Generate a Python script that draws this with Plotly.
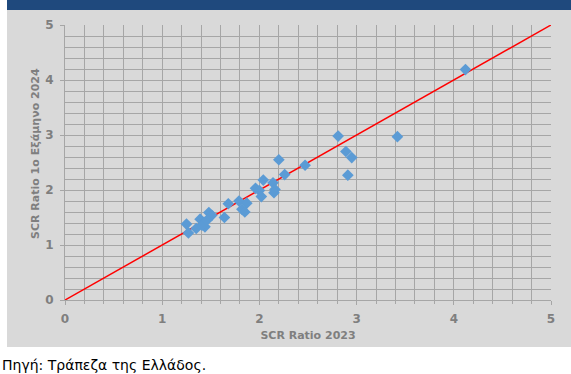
import plotly.graph_objects as go

# Data
scr_2023 = [4.12, 3.42, 2.81, 2.89, 2.95, 2.91, 2.20, 2.47, 2.26, 2.04, 2.14, 1.96,
            2.00, 2.16, 2.15, 2.02, 1.68, 1.79, 1.87, 1.82, 1.85, 1.64, 1.48, 1.51,
            1.39, 1.43, 1.44, 1.35, 1.25, 1.27, 1.41, 1.46]
scr_h1_2024 = [4.19, 2.97, 2.98, 2.70, 2.59, 2.27, 2.55, 2.45, 2.28, 2.18, 2.13, 2.03,
               1.99, 2.01, 1.95, 1.88, 1.75, 1.80, 1.76, 1.65, 1.60, 1.50, 1.59, 1.54,
               1.47, 1.41, 1.33, 1.30, 1.38, 1.22, 1.36, 1.45]
diag_x = [0, 5]
diag_y = [0, 5]
tick_vals = [0, 1, 2, 3, 4, 5]

W, H = 571, 374
L, R, T, B = 65, 20, 25, 74
pw, ph = W - L - R, H - T - B

def px2x(px):
    return (px - L) / pw

def py2y(py):
    return (H - B - py) / ph

gray_bg = "#d9d9d9"
grid = "#a6a6a6"
label_col = "#7f7f7f"

fig = go.Figure()
fig.add_trace(go.Scatter(x=diag_x, y=diag_y, mode="lines",
                         line=dict(color="#ff0000", width=1.5),
                         hoverinfo="skip", showlegend=False))
fig.add_trace(go.Scatter(x=scr_2023, y=scr_h1_2024, mode="markers",
                         marker=dict(symbol="diamond", size=9, color="#5b9bd5",
                                     line=dict(width=0)),
                         showlegend=False))

axis_common = dict(
    range=[0, 5], dtick=1, tickvals=tick_vals,
    showgrid=True, gridcolor=grid, gridwidth=1,
    zeroline=False, showline=True, linecolor=grid, linewidth=1,
    ticks="outside", ticklen=4, tickcolor=grid,
    tickfont=dict(family="DejaVu Sans", size=12, color=label_col, weight="bold"),
    ticklabelstandoff=4,
    fixedrange=True,
)

fig.update_xaxes(**axis_common,
                 minor=dict(dtick=0.2, showgrid=True, gridcolor=grid, gridwidth=1,
                            ticks="outside", ticklen=3, tickcolor=grid),
                 title=dict(text="SCR Ratio 2023", standoff=5,
                            font=dict(family="DejaVu Sans", size=11, color=label_col,
                                      weight="bold")))
fig.update_yaxes(**axis_common,
                 minor=dict(dtick=0.2, showgrid=True, gridcolor=grid, gridwidth=1))

fig.update_layout(
    width=W, height=H,
    margin=dict(l=L, r=R, t=T, b=B, pad=0),
    paper_bgcolor="white", plot_bgcolor=gray_bg,
    shapes=[
        dict(type="rect", xref="paper", yref="paper", layer="below",
             x0=px2x(7), x1=px2x(W + 2), y0=py2y(347), y1=py2y(10),
             fillcolor=gray_bg, line=dict(width=0)),
        dict(type="rect", xref="paper", yref="paper", layer="below",
             x0=px2x(7), x1=px2x(W + 2), y0=py2y(10), y1=py2y(-2),
             fillcolor="#1f497d", line=dict(width=0)),
    ],
    annotations=[
        dict(text="SCR Ratio 1ο Εξάμηνο 2024", xref="paper", yref="paper",
             x=px2x(35), y=py2y(154), textangle=-90, showarrow=False,
             xanchor="center", yanchor="middle",
             font=dict(family="DejaVu Sans", size=11, color=label_col, weight="bold")),
        dict(text="Πηγή: Τράπεζα της Ελλάδος.", xref="paper", yref="paper",
             x=px2x(0), y=py2y(365), showarrow=False,
             xanchor="left", yanchor="middle",
             font=dict(family="DejaVu Sans", size=14, color="#000000")),
    ],
)

fig.write_html(
    "out.html",
    config={"displayModeBar": False},
    post_script="document.body.style.margin='0';document.body.style.overflow='hidden';",
)
